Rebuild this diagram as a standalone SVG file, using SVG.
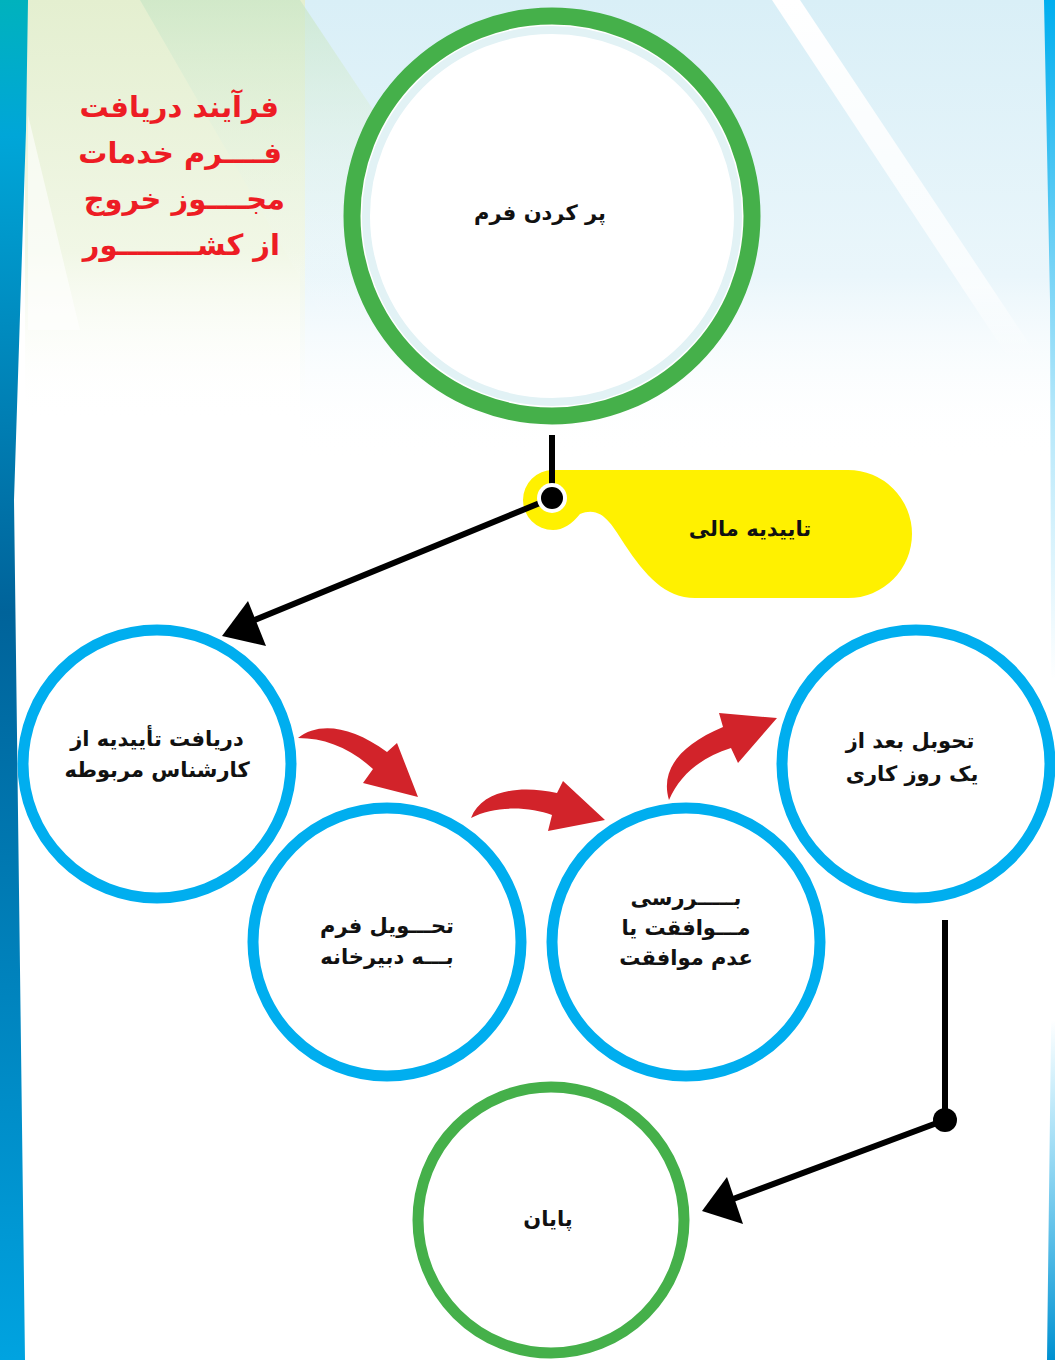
<svg xmlns="http://www.w3.org/2000/svg" width="1055" height="1360" viewBox="0 0 1055 1360">
<defs>
<linearGradient id="gBlueTop" x1="0" y1="0" x2="0" y2="1">
<stop offset="0" stop-color="#d9eff7"/>
<stop offset="0.6" stop-color="#eaf6fb"/>
<stop offset="1" stop-color="#ffffff" stop-opacity="0"/>
</linearGradient>
<linearGradient id="gGreenTop" x1="0" y1="0" x2="0" y2="1">
<stop offset="0" stop-color="#e4efd0"/>
<stop offset="0.6" stop-color="#f1f7e6"/>
<stop offset="1" stop-color="#ffffff" stop-opacity="0"/>
</linearGradient>
<linearGradient id="gDiag" x1="0" y1="0" x2="0" y2="1">
<stop offset="0" stop-color="#c9e6c6"/>
<stop offset="1" stop-color="#ffffff" stop-opacity="0"/>
</linearGradient>
<linearGradient id="gWhite" x1="0" y1="0" x2="0" y2="1">
<stop offset="0" stop-color="#ffffff"/>
<stop offset="0.8" stop-color="#ffffff" stop-opacity="0.7"/>
<stop offset="1" stop-color="#ffffff" stop-opacity="0"/>
</linearGradient>
<linearGradient id="gLeft" x1="0" y1="0" x2="0" y2="1">
<stop offset="0" stop-color="#00b2bd"/>
<stop offset="0.1" stop-color="#00a6d8"/>
<stop offset="0.45" stop-color="#00639a"/>
<stop offset="1" stop-color="#00a3e0"/>
</linearGradient>
<linearGradient id="gRight" x1="0" y1="0" x2="0" y2="1">
<stop offset="0" stop-color="#00aeef"/>
<stop offset="0.3" stop-color="#00aeef" stop-opacity="0.3"/>
<stop offset="0.5" stop-color="#00aeef" stop-opacity="0"/>
<stop offset="0.75" stop-color="#00aeef" stop-opacity="0"/>
<stop offset="1" stop-color="#0090d0"/>
</linearGradient>
<style>
.blue{fill:#ffffff;stroke:#00aeef;stroke-width:11}
.green{fill:#ffffff;stroke:#45b04a}
.lbl{font-family:"DejaVu Sans",sans-serif;font-weight:bold;font-size:21px;fill:#111111;text-anchor:middle}
.ttl{font-family:"DejaVu Sans",sans-serif;font-weight:bold;font-size:29px;fill:#ed1c24;text-anchor:end}
.con{stroke:#000000;stroke-width:6;fill:none}
.red{fill:#d2232a}
</style>
</defs>
<rect x="0" y="0" width="1055" height="1360" fill="#ffffff"/>
<!-- background -->
<rect x="300" y="0" width="750" height="460" fill="url(#gBlueTop)"/>
<rect x="25" y="0" width="280" height="420" fill="url(#gGreenTop)"/>
<polygon points="140,0 300,0 520,330 330,330" fill="url(#gDiag)" opacity="0.7"/>
<polygon points="772,0 800,0 1040,360 1010,360" fill="url(#gWhite)"/>
<polygon points="28,115 80,330 28,330" fill="#ffffff" opacity="0.6"/>
<polygon points="0,0 28,0 26,130 14,500 25,1360 0,1360" fill="url(#gLeft)"/>
<polygon points="1044,0 1055,0 1055,1360 1047,1360 1052,950 1050,300" fill="url(#gRight)"/>

<!-- title -->
<g id="title">
<text class="ttl" x="279" y="117">فرآیند دریافت</text>
<text class="ttl" x="282" y="163">فــــرم خدمات</text>
<text class="ttl" x="285" y="209">مجــــوز خروج</text>
<text class="ttl" x="280" y="255">از کشــــــــور</text>
</g>

<!-- yellow callout -->
<g id="callout">
<path d="M553,470 L848,470 A64,64 0 0 1 848,598 L695,598 C665,598 645,575 625,545 C612,525 602,505 580,514 C572,524 563,530 553,530 A30,30 0 0 1 553,470 Z" fill="#fff100"/>
<text class="lbl" x="750" y="536" font-size="23">تاییدیه مالی</text>
</g>

<!-- connectors -->
<g id="connectors">
<line class="con" x1="552" y1="435" x2="552" y2="498"/>
<line class="con" x1="552" y1="498" x2="245" y2="624"/>
<polygon points="222,636 248,601 266,646" fill="#000000"/>
<circle cx="552" cy="498" r="15" fill="#ffffff"/>
<circle cx="552" cy="498" r="11" fill="#000000"/>
<line class="con" x1="945" y1="920" x2="945" y2="1120"/>
<line class="con" x1="945" y1="1120" x2="725" y2="1202"/>
<polygon points="702,1211 727,1177 743,1224" fill="#000000"/>
<circle cx="945" cy="1120" r="12" fill="#000000"/>
<path class="red" d="M298,738 C318,722 350,725 387,752 L397,743 L418,797 L363,783 L373,769 C350,748 325,738 298,738 Z"/>
<path class="red" d="M471,818 C482,790 520,785 557,793 L563,781 L605,820 L548,831 L552,815 C530,807 495,805 471,818 Z"/>
<path class="red" d="M669,800 C660,770 680,745 723,727 L719,713 L777,718 L738,763 L731,748 C700,758 680,775 669,800 Z"/>
</g>

<!-- nodes -->
<g id="node-start">
<circle class="green" cx="552" cy="216" r="200" stroke-width="17"/>
<circle cx="552" cy="216" r="186" fill="none" stroke="#e2f2f5" stroke-width="8"/>
<text class="lbl" x="540" y="220">پر کردن فرم</text>
</g>
<g id="node-1">
<circle class="blue" cx="157" cy="764" r="134"/>
<text class="lbl" x="157" y="746">دریافت تأییدیه از</text>
<text class="lbl" x="157" y="777">کارشناس مربوطه</text>
</g>
<g id="node-2">
<circle class="blue" cx="387" cy="942" r="134"/>
<text class="lbl" x="387" y="933">تحـــویل فرم</text>
<text class="lbl" x="387" y="964">بـــه دبیرخانه</text>
</g>
<g id="node-3">
<circle class="blue" cx="686" cy="942" r="134"/>
<text class="lbl" x="686" y="905">بـــــررسی</text>
<text class="lbl" x="686" y="935">مـــوافقت یا</text>
<text class="lbl" x="686" y="965">عدم موافقت</text>
</g>
<g id="node-4">
<circle class="blue" cx="916" cy="764" r="134"/>
<text class="lbl" x="910" y="748">تحوبل بعد از</text>
<text class="lbl" x="912" y="781">یک روز کاری</text>
</g>
<g id="node-end">
<circle class="green" cx="551" cy="1220" r="133" stroke-width="11"/>
<text class="lbl" x="548" y="1226">پایان</text>
</g>
</svg>
